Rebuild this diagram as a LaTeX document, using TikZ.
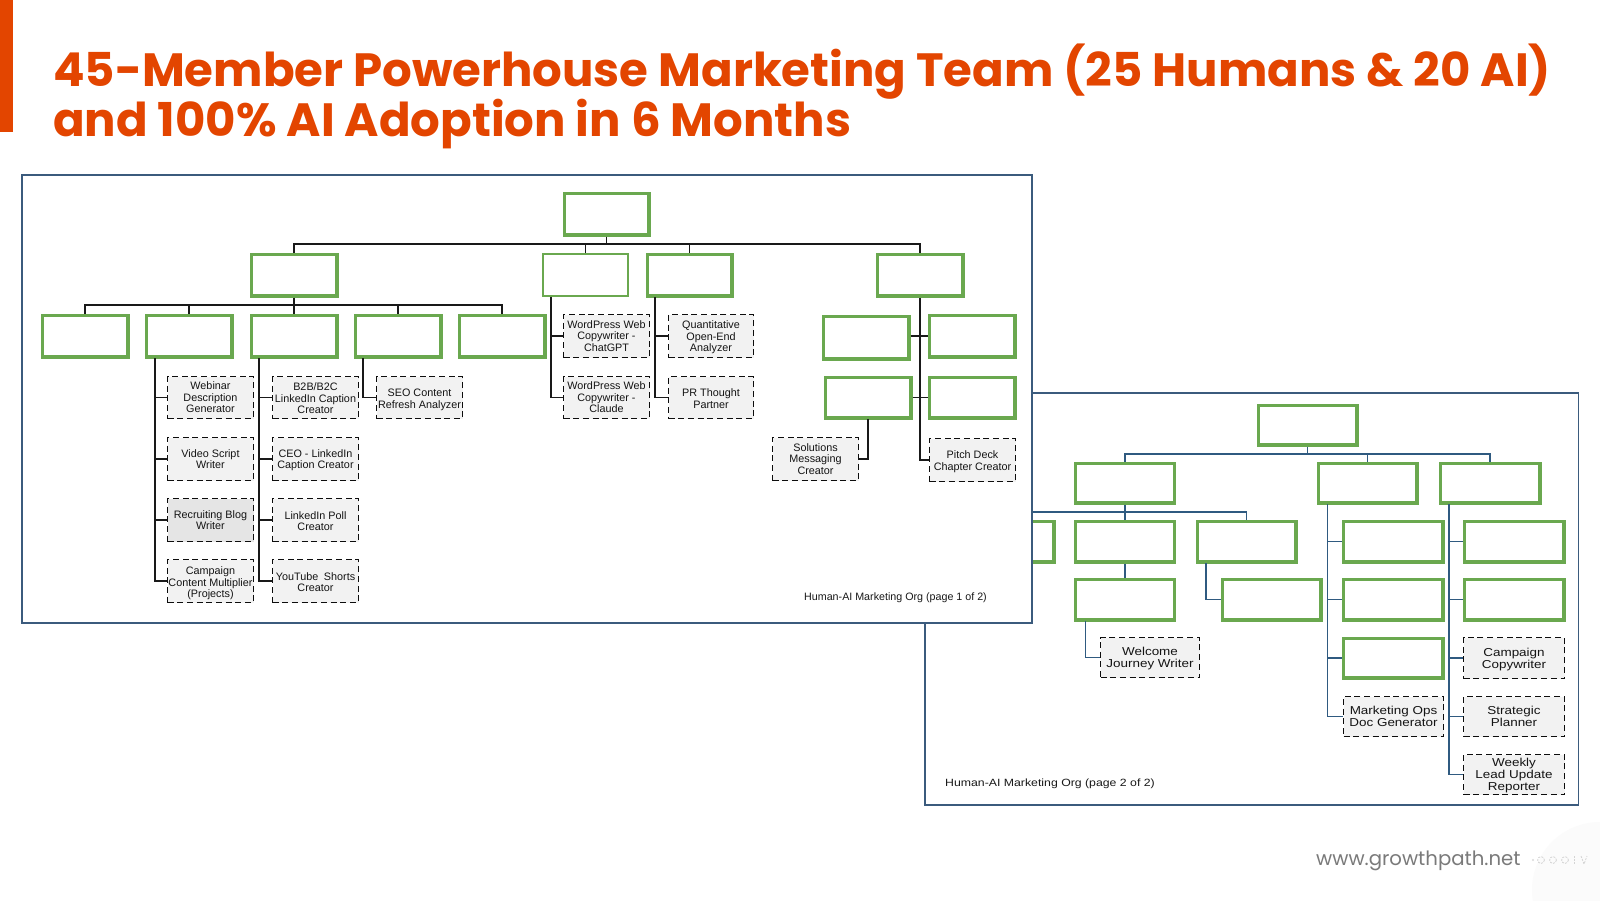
\documentclass[tikz,border=0pt]{standalone}
\usepackage{fontspec}
\setmainfont{Liberation Sans}
\newfontfamily\titlefont{Poppins}[UprightFont=*-Bold,BoldFont=*-Bold]
\newfontfamily\webfont{Poppins}
\newfontfamily\widefont{Liberation Sans}[FakeStretch=1.17]
\definecolor{accent}{HTML}{E34500}
\definecolor{leaf}{HTML}{6AA84F}
\definecolor{frameblue}{HTML}{3B5B7D}
\definecolor{linkblue}{HTML}{2F5A80}
% dashed or plain box given by its outer edges
\newcommand{\bx}[6][]{\node[#2,#1,minimum width={(#5-(#3)-1)*1pt},minimum height={(#6-(#4)-1)*1pt}] at ({(#3+#5)/2},{(#4+#6)/2})}
\newcommand{\gb}[6][]{\node[#2,#1,minimum width={(#5-(#3)-2.4)*1pt},minimum height={(#6-(#4)-2.4)*1pt}] at ({(#3+#5)/2},{(#4+#6)/2})}
% first-line strut: moves a box's text down by #1 pt
\newcommand{\dn}[1]{\rule{0pt}{\dimexpr 9pt+#1pt+#1pt\relax}}
\tikzset{
  greenbox/.style={draw=leaf,line width=3.4pt,fill=white,inner sep=0pt,outer sep=1.7pt},
  thingreen/.style={greenbox,line width=2.2pt,outer sep=1.1pt},
  aibox/.style={draw=black!95,line width=1.35pt,dash pattern=on 6pt off 3.7pt,fill=black!5,inner sep=0pt,outer sep=0.6pt,align=center,text=black!92,font=\fontsize{10.8}{11.5}\selectfont},
  aiboxwide/.style={aibox,font=\widefont\fontsize{11.5}{12}\selectfont},
  panelframe/.style={draw=frameblue,line width=1.3pt,fill=white},
  linkone/.style={draw=black!90,line width=1.4pt},
  linktwo/.style={draw=linkblue,line width=1.4pt},
  captionone/.style={font=\fontsize{10.7}{12}\selectfont,text=black!90,inner sep=0pt},
  captiontwo/.style={font=\widefont\fontsize{10.5}{12}\selectfont,text=black!90,inner sep=0pt},
  titletext/.style={anchor=base west,inner sep=0pt,text=accent,font=\titlefont\fontsize{46.65}{50}\selectfont},
  ghostmark/.style={draw=black!17,line width=0.8pt,dash pattern=on 2pt off 1.2pt},
}
\begin{document}
\begin{tikzpicture}[x=1pt,y=-1pt]
\useasboundingbox (0,0) rectangle (1600,900);
\fill[white] (0,0) rectangle (1600,900);
\fill[accent] (0,0) rectangle (13,132);
\node[titletext] (t1) at (53,86) {45-Member Powerhouse Marketing Team (25 Humans \& 20 AI)};
\node[titletext] (t2) at (53,136) {and 100\% AI Adoption in 6 Months};
% pale patch and ghosted marks at the bottom right corner
\fill[black!1.5] (1600,890) circle (68);
\node[anchor=base west,inner sep=0pt,text=black!52,font=\webfont\fontsize{19.7}{24}\selectfont] (web) at (1316,865) {www.growthpath.net};
\foreach \gx in {1541,1553,1565} \draw[ghostmark] (\gx,860) circle (3.4);
\draw[ghostmark] (1574,856) -- (1574,864);
\draw[ghostmark] (1581,856) -- (1584,864) -- (1587,856);
\fill[black!15] (1533,860) circle (1.2);

% ---------- page 2 (behind) ----------
\draw[panelframe] (925,393) rectangle (1578.5,805);
\gb{greenbox}{1257}{404}{1358}{446} (q0) {};
\gb{greenbox}{1074.5}{462}{1175.5}{504} (q1) {};
\gb{greenbox}{1317}{462}{1418}{504} (q2) {};
\gb{greenbox}{1439}{462}{1541}{504} (q3) {};
\gb{greenbox}{953}{520}{1055}{563} (q4) {};
\gb{greenbox}{1074.5}{520}{1175.5}{563} (q5) {};
\gb{greenbox}{1196}{520}{1297}{563} (q6) {};
\gb{greenbox}{1074.5}{578}{1175.5}{621} (q7) {};
\gb{greenbox}{1221}{578}{1322}{621} (q8) {};
\bx{aiboxwide}{1100}{637}{1200}{678} (welcome) {\dn{1}Welcome\\Journey Writer};
\gb{greenbox}{1342}{520}{1444}{563} (r1) {};
\gb{greenbox}{1342}{578}{1444}{621} (r2) {};
\gb{greenbox}{1342}{637}{1444}{679} (r3) {};
\bx{aiboxwide}{1343}{696}{1444}{737} (mops) {Marketing Ops\\Doc Generator};
\gb{greenbox}{1463}{520}{1565}{563} (s1) {};
\gb{greenbox}{1463}{578}{1565}{621} (s2) {};
\bx{aiboxwide}{1463}{637}{1565}{679} (camp) {\dn{1}Campaign\\Copywriter};
\bx{aiboxwide}{1463}{696}{1565}{737} (strat) {Strategic\\Planner};
\bx{aiboxwide}{1463}{754}{1565}{795} (weekly) {\dn{1}Weekly\\Lead Update\\Reporter};
\node[captiontwo,anchor=west] (cap2) at (945,784) {Human-AI Marketing Org (page 2 of 2)};
\coordinate (busq) at (1307.5,454);
\coordinate (busr) at (1125,512);
\coordinate (tq6) at (1206,563);
\coordinate (tq7) at (1085.5,621);
\coordinate (tq2) at (1327.5,504);
\coordinate (tq3) at (1449,504);
\begin{scope}[linktwo]
\draw (q0.south) -- (busq);
\draw (q1.north) |- (busq) -| (q3.north);
\draw (q2.north) |- (busq);
\draw (q1.south) -- (q5.north);
\draw (q4.north) |- (busr) -| (q6.north);
\draw (q5.south) -- (q7.north);
\draw (tq6) |- (q8.west);
\draw (tq7) |- (welcome.west);
\draw (tq2) |- (mops.west);
\draw (tq2 |- r1.west) -- (r1.west);
\draw (tq2 |- r2.west) -- (r2.west);
\draw (tq2 |- r3.west) -- (r3.west);
\draw (tq3) |- (weekly.west);
\draw (tq3 |- s1.west) -- (s1.west);
\draw (tq3 |- s2.west) -- (s2.west);
\draw (tq3 |- camp.west) -- (camp.west);
\draw (tq3 |- strat.west) -- (strat.west);
\end{scope}

% ---------- page 1 (front) ----------
\draw[panelframe] (22,175) rectangle (1032,623);
\gb{greenbox}{563}{192}{650}{236} (p0) {};
\gb{greenbox}{250}{253}{338}{297} (a0) {};
\gb{thingreen}{542}{253}{629}{297} (wp) {};
\gb{greenbox}{646}{253}{733}{297} (qa) {};
\gb{greenbox}{876}{253}{964}{297} (sa) {};
\gb{greenbox}{41}{314}{129}{358} (b1) {};
\gb{greenbox}{145}{314}{233}{358} (b2) {};
\gb{greenbox}{250}{314}{338}{358} (b3) {};
\gb{greenbox}{354}{314}{442}{358} (b4) {};
\gb{greenbox}{458}{314}{546}{358} (b5) {};
\bx{aibox}{167}{376}{254}{419} (c1) {Webinar\\Description\\Generator};
\bx{aibox}{167}{437}{254}{481} (c2) {Video Script\\Writer};
\bx[fill=black!10]{aibox}{167}{498}{254}{542} (c3) {Recruiting Blog\\Writer};
\bx{aibox}{167}{559}{254}{603} (c4) {\dn{2}Campaign\\Content Multiplier\\(Projects)};
\bx{aibox}{272}{376}{359}{419} (d1) {\dn{.5}B2B/B2C\\LinkedIn Caption\\Creator};
\bx{aibox}{272}{437}{359}{481} (d2) {\dn{.5}CEO - LinkedIn\\Caption Creator};
\bx{aibox}{272}{498}{359}{542} (d3) {\dn{.5}LinkedIn Poll\\Creator};
\bx{aibox}{272}{559}{359}{603} (d4) {\dn{.5}YouTube\hspace{.25em} Shorts\\Creator};
\bx{aibox}{376}{376}{463}{419} (e1) {\dn{1.5}SEO Content\\Refresh Analyzer};
\bx{aibox}{563}{314}{650}{358} (f1) {WordPress Web\\Copywriter -\\ChatGPT};
\bx{aibox}{563}{376}{650}{419} (f2) {WordPress Web\\Copywriter -\\Claude};
\bx{aibox}{668}{314}{754}{358} (g1) {\dn{1}Quantitative\\Open-End\\Analyzer};
\bx{aibox}{668}{376}{754}{419} (g2) {\dn{.5}PR Thought\\Partner};
\gb{greenbox}{822}{315}{910}{360} (h1) {};
\gb{greenbox}{928}{314}{1016}{358} (h2) {};
\gb{greenbox}{824}{376}{912}{419} (h3) {};
\gb{greenbox}{928}{376}{1016}{419} (h4) {};
\bx{aibox}{772}{437}{859}{481} (sol) {Solutions\\Messaging\\Creator};
\bx{aibox}{929}{438}{1016}{482} (pitch) {\dn{1}Pitch Deck\\Chapter Creator};
\node[captionone,anchor=west] (cap1) at (804,598) {Human-AI Marketing Org (page 1 of 2)};
\coordinate (busp) at (606.5,244);
\coordinate (busa) at (294,305);
\coordinate (tb2) at (155,358);
\coordinate (tb3) at (259,358);
\coordinate (tb4) at (363,358);
\coordinate (twp) at (551,297);
\coordinate (tqa) at (655,297);
\coordinate (th3) at (868,419);
\begin{scope}[linkone]
\draw (p0.south) -- (busp);
\draw (a0.north) |- (busp) -| (sa.north);
\draw (wp.north) |- (busp);
\draw (qa.north) |- (busp);
\draw (a0.south) -- (busa);
\draw (b1.north) |- (busa) -| (b5.north);
\draw (b2.north) |- (busa);
\draw (b3.north) -- (busa);
\draw (b4.north) |- (busa);
\draw (tb2) |- (c4.west);
\draw (tb2 |- c1.west) -- (c1.west);
\draw (tb2 |- c2.west) -- (c2.west);
\draw (tb2 |- c3.west) -- (c3.west);
\draw (tb3) |- (d4.west);
\draw (tb3 |- d1.west) -- (d1.west);
\draw (tb3 |- d2.west) -- (d2.west);
\draw (tb3 |- d3.west) -- (d3.west);
\draw (tb4) |- (e1.west);
\draw (twp) |- (f2.west);
\draw (twp |- f1.west) -- (f1.west);
\draw (tqa) |- (g2.west);
\draw (tqa |- g1.west) -- (g1.west);
\draw (sa.south) |- (pitch.west);
\draw (h1.east |- h2.west) -- (h2.west);
\draw (h3.east) -- (h4.west);
\draw (th3) |- (sol.east);
\end{scope}
\end{tikzpicture}
\end{document}
